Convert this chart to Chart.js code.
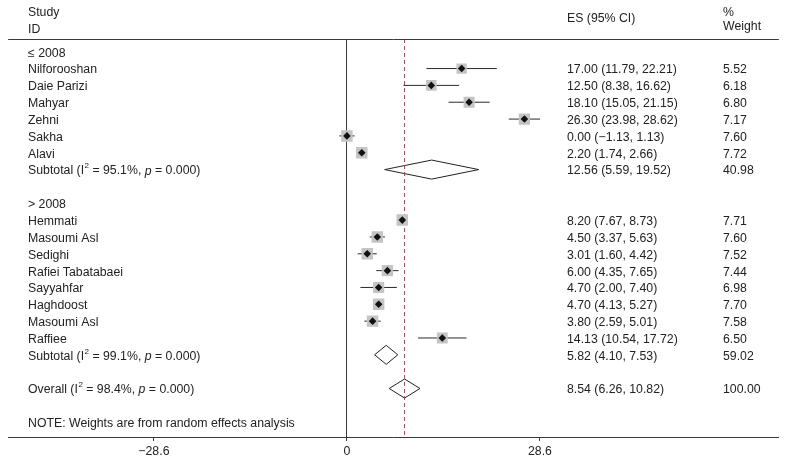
<!DOCTYPE html>
<html>
<head>
<meta charset="utf-8">
<script src="https://cdn.jsdelivr.net/npm/chart.js@4.4.1/dist/chart.umd.min.js"></script>
<style>
  body { margin: 0; background: #fff; }
  #wrap { width: 787px; height: 462px; }
</style>
</head>
<body>
<div id="wrap"><canvas id="forest"></canvas></div>
<script>
// Studies
const studyNames = ['Nilforooshan', 'Daie Parizi', 'Mahyar', 'Zehni', 'Sakha', 'Alavi',
  'Hemmati', 'Masoumi Asl', 'Sedighi', 'Rafiei Tabatabaei', 'Sayyahfar', 'Haghdoost', 'Masoumi Asl', 'Raffiee'];
const studyGroup = [0, 0, 0, 0, 0, 0, 1, 1, 1, 1, 1, 1, 1, 1];
const studyES = [17.00, 12.50, 18.10, 26.30, 0.00, 2.20, 8.20, 4.50, 3.01, 6.00, 4.70, 4.70, 3.80, 14.13];
const studyLo = [11.79, 8.38, 15.05, 23.98, -1.13, 1.74, 7.67, 3.37, 1.60, 4.35, 2.00, 4.13, 2.59, 10.54];
const studyHi = [22.21, 16.62, 21.15, 28.62, 1.13, 2.66, 8.73, 5.63, 4.42, 7.65, 7.40, 5.27, 5.01, 17.72];
const studyWeight = [5.52, 6.18, 6.80, 7.17, 7.60, 7.72, 7.71, 7.60, 7.52, 7.44, 6.98, 7.70, 7.58, 6.50];

// Subgroups
const groupNames = ['≤ 2008', '> 2008'];
const groupES = [12.56, 5.82];
const groupLo = [5.59, 4.10];
const groupHi = [19.52, 7.53];
const groupWeight = [40.98, 59.02];
const groupI2 = ['95.1', '99.1'];
const groupP = ['0.000', '0.000'];

// Overall
const overallES = 8.54, overallLo = 6.26, overallHi = 10.82, overallWeight = 100.00;
const overallI2 = '98.4', overallP = '0.000';

// Axis
const tickValues = [-28.6, 0, 28.6];
const tickLabels = ['−28.6', '0', '28.6'];

// lay out rows top to bottom
const rows = [];
let r = 0;
groupNames.forEach((g, gi) => {
  rows.push({ kind: 'head', row: r++, gi });
  studyNames.forEach((n, i) => { if (studyGroup[i] === gi) rows.push({ kind: 'study', row: r++, i }); });
  rows.push({ kind: 'sub', row: r++, gi });
  r++;
});
const overallRow = r; r += 2;
const noteRow = r;
const rowMin = -0.755, rowMax = 22.88;
const studyRow = {};
rows.forEach(o => { if (o.kind === 'study') studyRow[o.i] = o.row; });
const subRow = {};
rows.forEach(o => { if (o.kind === 'sub') subRow[o.gi] = o.row; });

const fmt = v => v.toFixed(2).replace('-', '−');
const esText = (e, l, h) => fmt(e) + ' (' + fmt(l) + ', ' + fmt(h) + ')';

const LINE = '#3a3a3a';
const FONT = '"Liberation Sans", Arial, sans-serif';
const FS = 12.3;

function diamond(es, lo, hi, row, order) {
  const h = 0.565;
  return {
    data: [{ x: lo, y: row }, { x: es, y: row - h }, { x: hi, y: row }, { x: es, y: row + h }, { x: lo, y: row }],
    showLine: true, borderColor: '#222', borderWidth: 1, pointRadius: 0, fill: false, order
  };
}

const datasets = [];
// confidence intervals
studyNames.forEach((n, i) => {
  datasets.push({
    data: [{ x: studyLo[i], y: studyRow[i] }, { x: studyHi[i], y: studyRow[i] }],
    showLine: true, borderColor: '#2a2a2a', borderWidth: 1, pointRadius: 0, order: 3
  });
});
// weight squares
datasets.push({
  data: studyES.map((v, i) => ({ x: v, y: studyRow[i] })),
  pointStyle: 'rect', pointRadius: studyWeight.map(w => 5.2 + 0.38 * w),
  backgroundColor: '#c4c4c4', borderWidth: 0, order: 2
});
// point estimates
datasets.push({
  data: studyES.map((v, i) => ({ x: v, y: studyRow[i] })),
  pointStyle: 'rectRot', pointRadius: 3.8, backgroundColor: '#111', borderWidth: 0, order: 1
});
// pooled diamonds
groupNames.forEach((g, gi) => datasets.push(diamond(groupES[gi], groupLo[gi], groupHi[gi], subRow[gi], 5)));
datasets.push(diamond(overallES, overallLo, overallHi, overallRow, 5));
// overall effect line
datasets.push({
  data: [{ x: overallES, y: rowMin }, { x: overallES, y: rowMax }],
  showLine: true, borderColor: '#cc3344', borderWidth: 1, borderDash: [4, 3], pointRadius: 0, order: 4
});

function drawStat(ctx, label, i2, p, x, y) {
  ctx.font = FS + 'px ' + FONT;
  let s = label + ' (I';
  ctx.fillText(s, x, y); x += ctx.measureText(s).width + 0.5;
  ctx.font = '8px ' + FONT;
  ctx.fillText('2', x, y - 5); x += ctx.measureText('2').width;
  ctx.font = FS + 'px ' + FONT;
  s = ' = ' + i2 + '%, ';
  ctx.fillText(s, x, y); x += ctx.measureText(s).width;
  ctx.font = 'italic ' + FS + 'px ' + FONT;
  ctx.fillText('p', x, y); x += ctx.measureText('p').width;
  ctx.font = FS + 'px ' + FONT;
  ctx.fillText(' = ' + p + ')', x, y);
}

const textPlugin = {
  id: 'forestText',
  afterDraw(chart) {
    const { ctx, chartArea, scales: { y } } = chart;
    const top = chartArea.top;
    const xLab = 28, xES = 567, xW = 723;
    ctx.save();
    // header rule
    ctx.strokeStyle = LINE; ctx.lineWidth = 1;
    ctx.beginPath();
    ctx.moveTo(chartArea.left, Math.round(top) + 0.5);
    ctx.lineTo(chartArea.right, Math.round(top) + 0.5);
    ctx.stroke();

    ctx.fillStyle = '#222';
    ctx.textBaseline = 'middle';
    ctx.textAlign = 'left';
    ctx.font = FS + 'px ' + FONT;
    ctx.fillText('Study', xLab, top - 26.3);
    ctx.fillText('ID', xLab, top - 9.7);
    ctx.fillText('ES (95% CI)', xES, top - 20.7);
    ctx.fillText('%', xW, top - 26.7);
    ctx.fillText('Weight', xW, top - 12.3);

    const py = row => y.getPixelForValue(row) + 1.5;
    rows.forEach(o => {
      const yy = py(o.row);
      ctx.font = FS + 'px ' + FONT;
      if (o.kind === 'head') {
        ctx.fillText(groupNames[o.gi], xLab, yy);
      } else if (o.kind === 'study') {
        ctx.fillText(studyNames[o.i], xLab, yy);
        ctx.fillText(esText(studyES[o.i], studyLo[o.i], studyHi[o.i]), xES, yy);
        ctx.fillText(studyWeight[o.i].toFixed(2), xW, yy);
      } else {
        drawStat(ctx, 'Subtotal', groupI2[o.gi], groupP[o.gi], xLab, yy);
        ctx.font = FS + 'px ' + FONT;
        ctx.fillText(esText(groupES[o.gi], groupLo[o.gi], groupHi[o.gi]), xES, yy);
        ctx.fillText(groupWeight[o.gi].toFixed(2), xW, yy);
      }
    });
    const yo = py(overallRow);
    drawStat(ctx, 'Overall', overallI2, overallP, xLab, yo);
    ctx.font = FS + 'px ' + FONT;
    ctx.fillText(esText(overallES, overallLo, overallHi), xES, yo);
    ctx.fillText(overallWeight.toFixed(2), xW, yo);
    ctx.fillText('NOTE: Weights are from random effects analysis', xLab, py(noteRow));
    ctx.restore();
  }
};

// x scale: 0 at about x=347, ~6.77 px per unit across a 773px wide plot
const xMin = -50.2, xMax = 64.0;

new Chart(document.getElementById('forest'), {
  type: 'scatter',
  data: { datasets },
  options: {
    responsive: true,
    maintainAspectRatio: false,
    animation: false,
    events: [],
    layout: { padding: { top: 39, left: 7, right: 7, bottom: 0 } },
    plugins: { legend: { display: false }, tooltip: { enabled: false } },
    scales: {
      x: {
        type: 'linear', min: xMin, max: xMax,
        afterBuildTicks: s => { s.ticks = tickValues.map(v => ({ value: v })); },
        afterFit: s => { s.height = 25; },
        ticks: {
          autoSkip: false, maxRotation: 0, padding: 3, color: '#222',
          font: { family: FONT, size: FS },
          callback: v => tickLabels[tickValues.indexOf(v)]
        },
        grid: {
          color: c => (c.tick && c.tick.value === 0 ? LINE : 'rgba(0,0,0,0)'),
          tickColor: LINE, tickLength: 4, lineWidth: 1
        },
        border: { display: true, color: LINE, width: 1 }
      },
      y: { type: 'linear', min: rowMin, max: rowMax, reverse: true, display: false }
    }
  },
  plugins: [textPlugin]
});
</script>
</body>
</html>
